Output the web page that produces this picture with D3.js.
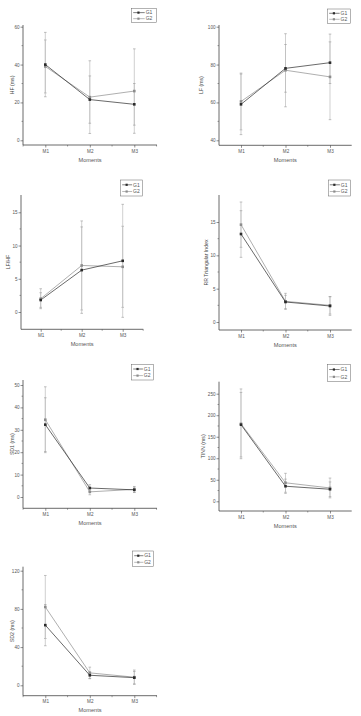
<!DOCTYPE html>
<html><head><meta charset="utf-8">
<script src="https://cdn.jsdelivr.net/npm/d3@7"></script>
<style>body{margin:0;background:#fff}svg{display:block}</style>
</head><body><svg id="c" width="361" height="716"></svg>
<script>
// ---------- DATA ----------
const moments = ["M1", "M2", "M3"];
const groups = ["G1", "G2"];

const hfG1 = [40, 21.5, 19];     const hfG1Sd = [17, 12.5, 11];
const hfG2 = [39, 22.8, 26];     const hfG2Sd = [14, 19.2, 22.3];
const hfTicks = [0, 20, 40, 60];

const lfG1 = [59, 78, 81];       const lfG1Sd = [16, 12.6, 11];
const lfG2 = [60.5, 77, 73.5];   const lfG2Sd = [15, 19.3, 22.6];
const lfTicks = [40, 60, 80, 100];

const ratioG1 = [1.8, 6.3, 7.7]; const ratioG1Sd = [1.1, 6.5, 8.5];
const ratioG2 = [2.0, 7.0, 6.8]; const ratioG2Sd = [1.5, 6.7, 6.1];
const ratioTicks = [0, 5, 10, 15];

const rrG1 = [13.2, 3.0, 2.4];   const rrG1Sd = [3.5, 1.0, 1.4];
const rrG2 = [14.6, 3.1, 2.5];   const rrG2Sd = [3.4, 1.2, 1.3];
const rrTicks = [0, 5, 10, 15];

const sd1G1 = [32.3, 4.0, 3.2];  const sd1G1Sd = [12, 1.5, 1.2];
const sd1G2 = [34.5, 2.3, 3.4];  const sd1G2Sd = [14.7, 1.3, 1.3];
const sd1Ticks = [0, 10, 20, 30, 40, 50];

const tinnG1 = [178, 35, 28];    const tinnG1Sd = [75, 16.5, 17];
const tinnG2 = [180, 43, 31];    const tinnG2Sd = [81, 22, 23];
const tinnTicks = [0, 50, 100, 150, 200, 250];

const sd2G1 = [63, 10.5, 8];     const sd2G1Sd = [21.6, 3.5, 6.5];
const sd2G2 = [82, 13, 8.5];     const sd2G2Sd = [33, 6, 7.5];
const sd2Ticks = [0, 40, 80, 120];

const yLabels = ["HF (ms)", "LF (ms)", "LF/HF", "RR Triangular Index", "SD1 (ms)", "TINN (ms)", "SD2 (ms)"];
const xLabel = "Moments";

// ---------- LAYOUT ----------
const L = {ax: 23, right: 157, m: [45.3, 134.3]};
const R = {ax: 219, right: 351.7, m: [241, 330]};
const panels = [
  {col: L, g1: hfG1, s1: hfG1Sd, g2: hfG2, s2: hfG2Sd, ticks: hfTicks, py: [140.3, 26.7], top: 25, bot: 145, lab: yLabels[0], lx: 11.7, leg: [131.7, 8.3, 25, 14.4]},
  {col: R, g1: lfG1, s1: lfG1Sd, g2: lfG2, s2: lfG2Sd, ticks: lfTicks, py: [140.3, 26.7], top: 25, bot: 145.3, lab: yLabels[1], lx: 200.7, leg: [327.7, 9, 23, 14.3]},
  {col: {ax: 21, right: 143.3, m: [40.7, 122.7]}, g1: ratioG1, s1: ratioG1Sd, g2: ratioG2, s2: ratioG2Sd, ticks: ratioTicks, py: [312, 212.3], top: 195, bot: 329.3, lab: yLabels[2], lx: 8, leg: [120.7, 180, 22, 16]},
  {col: R, g1: rrG1, s1: rrG1Sd, g2: rrG2, s2: rrG2Sd, ticks: rrTicks, py: [322, 222], top: 195, bot: 330, lab: yLabels[3], lx: 206, leg: [328.3, 180, 22.4, 16]},
  {col: L, g1: sd1G1, s1: sd1G1Sd, g2: sd1G2, s2: sd1G2Sd, ticks: sd1Ticks, py: [497, 385], top: 380, bot: 508.3, lab: yLabels[4], lx: 11.7, leg: [131.7, 364.3, 21.6, 15.7]},
  {col: R, g1: tinnG1, s1: tinnG1Sd, g2: tinnG2, s2: tinnG2Sd, ticks: tinnTicks, py: [501.3, 393.7], top: 381.7, bot: 511, lab: yLabels[5], lx: 202.7, leg: [327.7, 364.3, 23, 17.4]},
  {col: L, g1: sd2G1, s1: sd2G1Sd, g2: sd2G2, s2: sd2G2Sd, ticks: sd2Ticks, py: [685.3, 570.7], top: 566.7, bot: 695.7, lab: yLabels[6], lx: 11.7, leg: [132.7, 551, 20.6, 15.7]}
];

const svg = d3.select("#c");
const txt = "#555", axisC = "#444";
const c1 = "#2a2a2a", c2 = "#8c8c8c", errC = "#bbbbbb";
const font = "Liberation Sans, Arial, sans-serif";

panels.forEach(p => {
  const g = svg.append("g");
  const x = d3.scalePoint().domain(moments).range(p.col.m);
  const t = p.ticks;
  const y = d3.scaleLinear().domain([t[0], t[t.length - 1]]).range(p.py);
  const xAxisY = p.bot;

  // y axis
  const yAxis = d3.axisLeft(y).tickValues(t).tickSize(2.5).tickPadding(1);
  const ya = g.append("g").attr("transform", `translate(${p.col.ax},0)`).call(yAxis);
  ya.select(".domain").remove();
  ya.selectAll("line").attr("stroke", axisC).attr("stroke-width", 0.6);
  ya.selectAll("text").attr("font-size", 4.6).attr("font-family", font).attr("fill", txt);
  g.append("line").attr("x1", p.col.ax).attr("x2", p.col.ax).attr("y1", p.top).attr("y2", p.bot)
    .attr("stroke", axisC).attr("stroke-width", 0.8);
  const minors = [];
  for (let i = 0; i < t.length - 1; i++) minors.push((t[i] + t[i + 1]) / 2);
  g.selectAll(".ym").data(minors).join("line")
    .attr("x1", p.col.ax - 1.5).attr("x2", p.col.ax).attr("y1", d => y(d)).attr("y2", d => y(d))
    .attr("stroke", axisC).attr("stroke-width", 0.5);

  // x axis
  const xAxis = d3.axisBottom(x).tickSize(2.5).tickPadding(2);
  const xa = g.append("g").attr("transform", `translate(0,${xAxisY})`).call(xAxis);
  xa.select(".domain").remove();
  xa.selectAll("line").attr("stroke", axisC).attr("stroke-width", 0.6);
  xa.selectAll("text").attr("font-size", 4.6).attr("font-family", font).attr("fill", txt);
  g.append("line").attr("x1", p.col.ax).attr("x2", p.col.right).attr("y1", xAxisY).attr("y2", xAxisY)
    .attr("stroke", axisC).attr("stroke-width", 0.8);
  const step = x.step();
  const xm = [x("M1") - step / 2, x("M1") + step / 2, x("M2") + step / 2, x("M3") + step / 2].filter(v => v > p.col.ax && v < p.col.right);
  g.selectAll(".xm").data(xm).join("line")
    .attr("x1", d => d).attr("x2", d => d).attr("y1", xAxisY).attr("y2", xAxisY + 1.5)
    .attr("stroke", axisC).attr("stroke-width", 0.5);

  // axis titles
  g.append("text").attr("x", (p.col.ax + p.col.right) / 2).attr("y", xAxisY + 16.5)
    .attr("text-anchor", "middle").attr("font-size", 5.6).attr("font-family", font).attr("fill", txt).text(xLabel);
  g.append("text").attr("transform", `translate(${p.lx},${(p.top + p.bot) / 2}) rotate(-90)`)
    .attr("text-anchor", "middle").attr("dy", "0.35em").attr("font-size", 5.2).attr("font-family", font)
    .attr("fill", "#444").text(p.lab);

  const series = [
    {vals: p.g2, sd: p.s2, color: c2},
    {vals: p.g1, sd: p.s1, color: c1}
  ];
  series.forEach(s => {
    moments.forEach((m, i) => {
      const cx = x(m), lo = y(s.vals[i] - s.sd[i]), hi = y(s.vals[i] + s.sd[i]);
      g.append("line").attr("x1", cx).attr("x2", cx).attr("y1", lo).attr("y2", hi).attr("stroke", errC).attr("stroke-width", 0.7);
      [lo, hi].forEach(yy => g.append("line").attr("x1", cx - 1.3).attr("x2", cx + 1.3).attr("y1", yy).attr("y2", yy).attr("stroke", "#999").attr("stroke-width", 0.6));
    });
  });
  series.forEach(s => {
    const line = d3.line().x((d, i) => x(moments[i])).y(d => y(d));
    g.append("path").attr("d", line(s.vals)).attr("fill", "none").attr("stroke", s.color).attr("stroke-width", 0.7);
    g.selectAll(null).data(s.vals).join("rect")
      .attr("x", (d, i) => x(moments[i]) - 1.3).attr("y", d => y(d) - 1.3).attr("width", 2.6).attr("height", 2.6)
      .attr("fill", s.color);
  });

  // legend
  const [lx, ly, lw, lh] = p.leg;
  g.append("rect").attr("x", lx).attr("y", ly).attr("width", lw).attr("height", lh)
    .attr("fill", "#fff").attr("stroke", "#666").attr("stroke-width", 0.5);
  [{n: groups[0], c: c1}, {n: groups[1], c: c2}].forEach((d, i) => {
    const yy = ly + lh * (i === 0 ? 0.3 : 0.72);
    g.append("line").attr("x1", lx + 1.5).attr("x2", lx + lw * 0.52).attr("y1", yy).attr("y2", yy).attr("stroke", d.c).attr("stroke-width", 0.6);
    g.append("rect").attr("x", lx + lw * 0.27 - 1.1).attr("y", yy - 1.1).attr("width", 2.2).attr("height", 2.2).attr("fill", d.c);
    g.append("text").attr("x", lx + lw * 0.56).attr("y", yy).attr("dy", "0.35em").attr("font-size", 5)
      .attr("font-family", font).attr("fill", txt).text(d.n);
  });
});
</script>
</body></html>
